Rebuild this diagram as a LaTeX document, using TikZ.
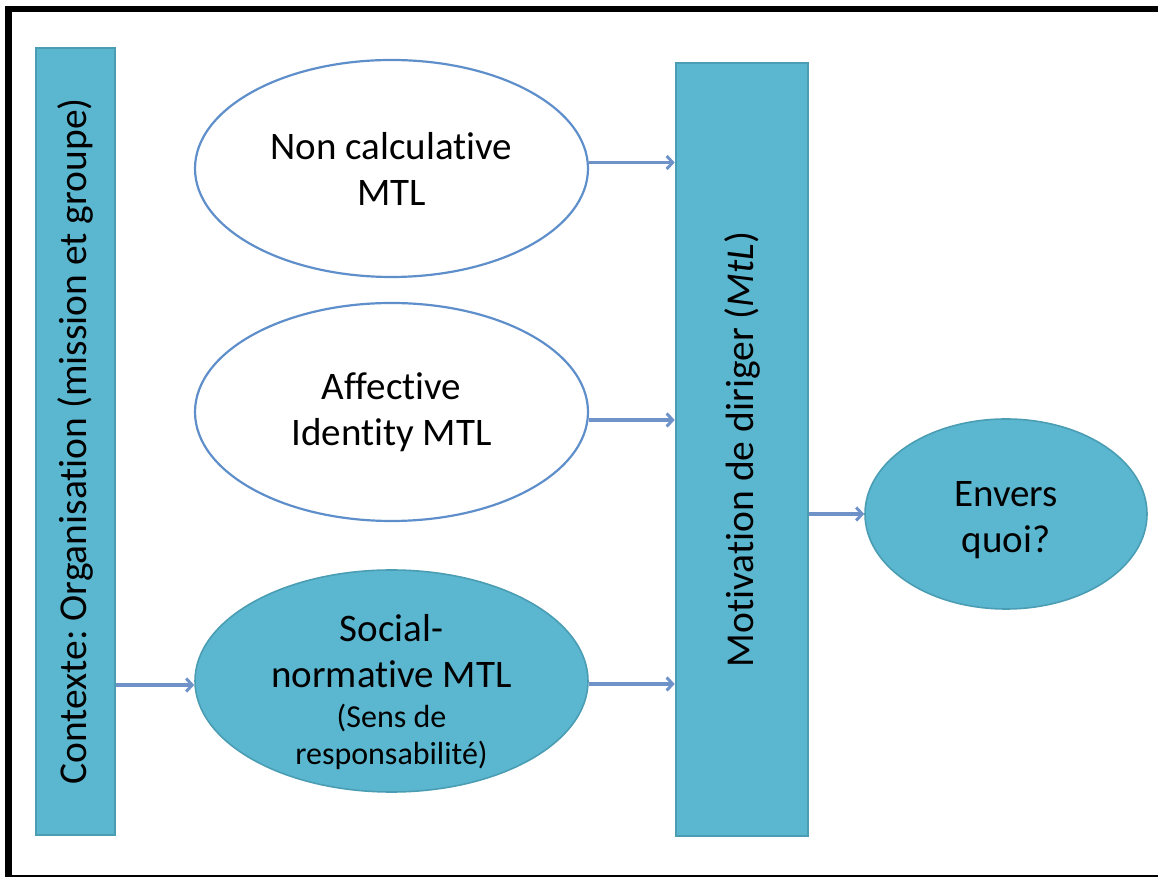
\documentclass[tikz,border=0pt]{standalone}
\usepackage{fontspec}
\setmainfont{Carlito}[Ligatures=NoCommon]
\frenchspacing
\usetikzlibrary{arrows.meta,shapes.geometric}
\definecolor{teal}{HTML}{5BB7D0}
\definecolor{tealedge}{HTML}{4A9DB3}
\definecolor{outline}{HTML}{5F8FCB}
\definecolor{link}{HTML}{6F93C8}
\tikzset{
  bar/.style={draw=tealedge, line width=2.6pt, fill=teal, inner sep=0pt},
  bubble/.style={ellipse, draw=outline, line width=2.2pt, fill=white, inner sep=0pt, align=center, font=\fontsize{39}{46}\selectfont},
  bubblefilled/.style={bubble, draw=tealedge, line width=1.6pt, fill=teal},
  vlabel/.style={rotate=90, font=\fontsize{39.5}{46}\selectfont},
  link/.style={draw=link, line width=3.6pt, -{Straight Barb[length=6pt,width=13pt,line width=3pt]}},
  frame/.style={line width=6.5pt, black}
}
\begin{document}
\begin{tikzpicture}[x=1pt,y=1pt]
\useasboundingbox (0,0) rectangle (1158,877);
% outer frame (top, left, bottom)
\draw[frame] (5,868) -- (1158,868);
\draw[frame] (8.5,871) -- (8.5,0);
\draw[black, line width=2.5pt] (5,1.2) -- (1158,1.2);

% vertical bars
\node[bar, minimum width=79pt, minimum height=787pt] (ctx) at (75.5,435.5) {};
\node[vlabel] at (ctx.center) {Contexte: Organisation (mission et groupe)};
\node[bar, minimum width=132pt, minimum height=773pt] (mtl) at (742,427.5) {};
\node[vlabel] at (mtl.center) {Motivation de diriger (\textit{MtL})};

% motivation types
\node[bubble, minimum width=393pt, minimum height=217pt] (nc) at (391.5,708.5) {Non calculative\\MTL};
\node[bubble, minimum width=393pt, minimum height=218pt] (aff) at (391.5,465) {Affective\\Identity MTL};
\node[bubblefilled, minimum width=393pt, minimum height=222pt] (soc) at (391.5,196) {};
\node[align=center, font=\fontsize{39}{46}\selectfont, anchor=north] (soctxt) at ([yshift=-42pt]soc.north)
  {Social-\\normative MTL\\[-6pt]{\fontsize{32}{38}\selectfont (Sens de}\\[-9pt]{\fontsize{32}{38}\selectfont responsabilité)}};
\node[bubblefilled, minimum width=282pt, minimum height=190pt] (env) at (1006,363) {};
\node[align=center, font=\fontsize{39}{46}\selectfont] (envtxt) at ([yshift=-6pt]env.center) {Envers\\quoi?};

% connectors
\draw[link] ([yshift=6pt]nc.east) -- ([yshift=6pt]nc.east -| mtl.west);
\draw[link] ([yshift=-8pt]aff.east) -- ([yshift=-8pt]aff.east -| mtl.west);
\draw[link] ([yshift=-3pt]soc.east) -- ([yshift=-3pt]soc.east -| mtl.west);
\draw[link] (ctx.east |- soc.west) ++(0,-4pt) coordinate (c1) (c1) -- (c1 -| soc.west);
\draw[link] (mtl.east |- env.west) -- (env.west);
\end{tikzpicture}
\end{document}
